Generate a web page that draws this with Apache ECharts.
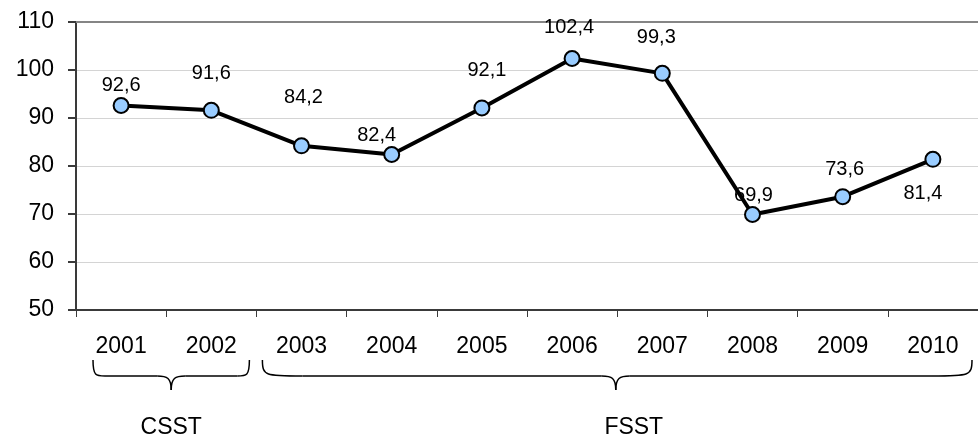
<!DOCTYPE html>
<html>
<head>
<meta charset="utf-8">
<script src="https://cdn.jsdelivr.net/npm/echarts@6/dist/echarts.min.js"></script>
<style>html,body{margin:0;padding:0;background:#fff}#c{width:978px;height:445px}</style>
</head>
<body>
<div id="c"></div>
<script>
const years = ['2001','2002','2003','2004','2005','2006','2007','2008','2009','2010'];
const values = [92.6, 91.6, 84.2, 82.4, 92.1, 102.4, 99.3, 69.9, 73.6, 81.4];
const yTicks = [50, 60, 70, 80, 90, 100, 110];
const groupNames = ['CSST', 'FSST'];
const groupStart = [0, 2];
const groupEnd = [1, 9];
// label nudges (styling only)
const labelNudge = [[0,-20],[0,-37],[2,-48],[-15,-19],[5,-37],[-3,-31],[-6,-36],[1,-19],[2,-27],[-10,34]];

const FONT = 'Liberation Sans, Arial, sans-serif';
const chart = echarts.init(document.getElementById('c'));
const gridTop = 22, gridBottom = 135, gridLeft = 76;

chart.setOption({
  animation: false,
  backgroundColor: '#fff',
  grid: { left: gridLeft, right: 0, top: gridTop, bottom: gridBottom, containLabel: false },
  xAxis: [{
    type: 'category', data: years, boundaryGap: true,
    axisLine: { lineStyle: { color: '#3a3a3a', width: 2 } },
    axisTick: { show: true, length: 7, lineStyle: { color: '#3a3a3a', width: 1 } },
    axisLabel: { color: '#000', fontSize: 23, fontFamily: FONT, margin: 25 },
    splitLine: { show: false }
  }, {
    type: 'category', data: years, position: 'top',
    axisLine: { lineStyle: { color: '#858585', width: 2 } },
    axisTick: { show: false }, axisLabel: { show: false }
  }],
  yAxis: {
    type: 'value', min: yTicks[0], max: yTicks[yTicks.length - 1], interval: 10,
    axisLine: { show: true, lineStyle: { color: '#3a3a3a', width: 2 } },
    axisTick: { show: true, length: 8, lineStyle: { color: '#3a3a3a', width: 2 } },
    axisLabel: { color: '#000', fontSize: 23, fontFamily: FONT, margin: 22 },
    splitLine: { show: true, lineStyle: { color: '#d4d4d4', width: 1 } }
  },
  series: [{
    type: 'line', xAxisIndex: 0,
    data: values.map((v, i) => ({
      value: v,
      label: { offset: labelNudge[i] }
    })),
    symbol: 'circle', symbolSize: 15,
    lineStyle: { color: '#000', width: 4 },
    itemStyle: { color: '#99ccff', borderColor: '#000', borderWidth: 2 },
    label: {
      show: true, position: 'inside', color: '#000', fontSize: 20, fontFamily: FONT,
      formatter: p => String(p.value).replace('.', ',')
    },
    z: 3
  }]
});

function drawBraces() {
  const step = chart.convertToPixel({ xAxisIndex: 0 }, years[1]) - chart.convertToPixel({ xAxisIndex: 0 }, years[0]);
  const elements = [];
  const yTop = 360, yMid = 376, yTip = 390;
  const ls = { stroke: '#000', lineWidth: 1.5, fill: null };
  const padL = [17, 6], padR = [7, 6];
  for (let g = 0; g < groupNames.length; g++) {
    const x0 = chart.convertToPixel({ xAxisIndex: 0 }, years[groupStart[g]]) - step / 2 + padL[g];
    const x1 = chart.convertToPixel({ xAxisIndex: 0 }, years[groupEnd[g]]) + step / 2 - padR[g];
    const xm = g === 0 ? (x0 + x1) / 2 : x0 + (x1 - x0) * 0.498;
    const r = g === 0 ? 12 : 40;
    const bz = (a, b, c, d) => ({ type: 'bezierCurve', shape: { x1: a[0], y1: a[1], cpx1: b[0], cpy1: b[1], cpx2: c[0], cpy2: c[1], x2: d[0], y2: d[1] }, style: ls });
    const ln = (a, b) => ({ type: 'line', shape: { x1: a[0], y1: a[1], x2: b[0], y2: b[1] }, style: ls });
    elements.push(bz([x0, yTop], [x0, yMid], [x0 + 3, yMid], [x0 + r, yMid]));
    elements.push(ln([x0 + r, yMid], [xm - 14, yMid]));
    elements.push(bz([xm - 14, yMid], [xm - 4, yMid], [xm, yMid + 2], [xm, yTip]));
    elements.push(bz([xm, yTip], [xm, yMid + 2], [xm + 4, yMid], [xm + 14, yMid]));
    elements.push(ln([xm + 14, yMid], [x1 - r, yMid]));
    elements.push(bz([x1 - r, yMid], [x1 - 3, yMid], [x1, yMid], [x1, yTop]));
    elements.push({
      type: 'text', x: g === 0 ? (x0 + x1) / 2 : xm + 18, y: 428,
      style: { text: groupNames[g], font: '23px ' + FONT, fill: '#000', textAlign: 'center', textVerticalAlign: 'middle' }
    });
  }
  chart.setOption({ graphic: elements });
}
drawBraces();
</script>
</body>
</html>
